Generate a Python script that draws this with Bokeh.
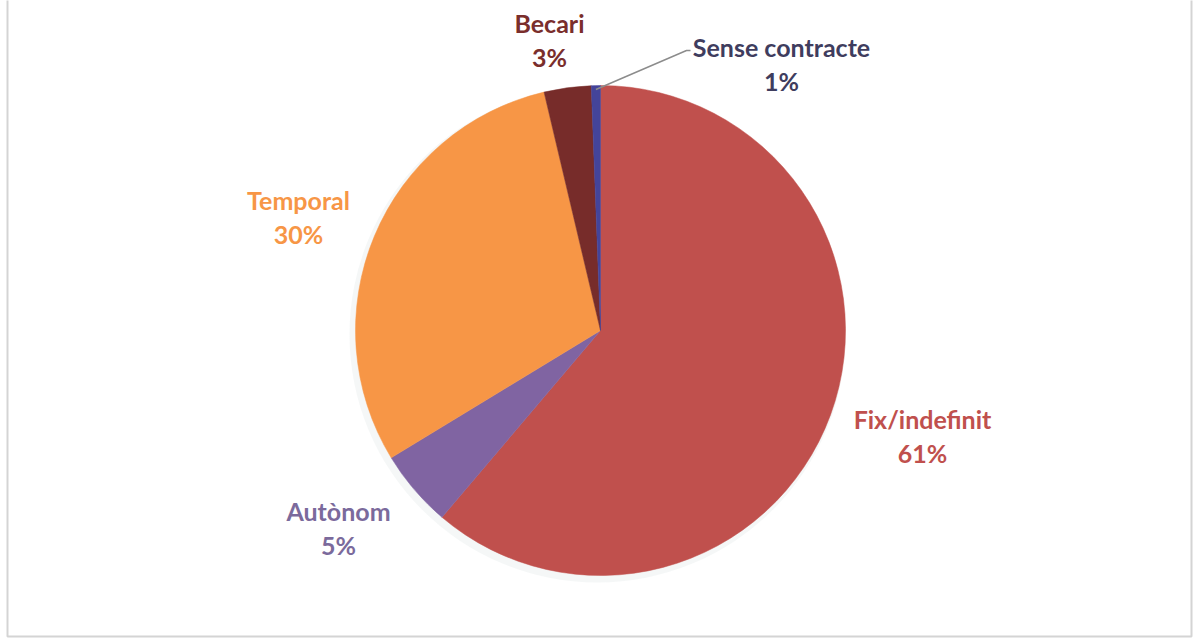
import numpy as np
from bokeh.plotting import figure
from bokeh.models import Range1d, ColumnDataSource
from bokeh.core.properties import value
from bokeh.embed import file_html
from bokeh.resources import INLINE

# ---- data ----
categories = ["Fix/indefinit", "Autònom", "Temporal", "Becari", "Sense contracte"]
shares = [61.2, 5.1, 30.0, 3.1, 0.6]
pct_labels = ["61%", "5%", "30%", "3%", "1%"]
colors = ["#C0504D", "#8064A2", "#F79646", "#772C2A", "#44449A"]
label_colors = ["#C0504D", "#7B6A9C", "#F79646", "#7A2E2C", "#3F3D5E"]

# ---- layout (pixels relative to pie centre, y up) ----
R = 245
label_xy = [(322, -105), (-262, -197), (-302, 114), (-51, 291), (181, 267)]

vals = np.array(shares, dtype=float)
frac = vals / vals.sum()
cum = np.concatenate([[0], np.cumsum(frac)])
start = np.pi / 2 - cum[:-1] * 2 * np.pi
end = np.pi / 2 - cum[1:] * 2 * np.pi

src = ColumnDataSource(dict(start=start, end=end, color=colors, cat=categories))

p = figure(width=1193, height=641, output_backend="svg", toolbar_location=None,
           x_range=Range1d(-600, 593), y_range=Range1d(-311, 330),
           min_border=0, outline_line_color=None)
p.axis.visible = False
p.grid.visible = False
p.background_fill_color = "white"
p.border_fill_color = "white"

# frame of the chart box
p.line(x=[-593, -593, 591, 591], y=[340, -306, -306, 340], line_color="#D4D4D4", line_width=2)

# soft shadow
p.circle(x=-3, y=-4, radius=R + 3, fill_color="#EEF1F1", line_color=None, alpha=0.6)

p.wedge(x=0, y=0, radius=R, start_angle="start", end_angle="end", direction="clock",
        fill_color="color", line_color="color", line_width=0.5, source=src)

# leader line for small slice
mid_small = (start[4] + end[4]) / 2
lx0, ly0 = R * np.cos(mid_small), R * np.sin(mid_small) - 4
p.line(x=[lx0, 86, 90], y=[ly0, 280, 280], line_color="#8C8C8C", line_width=1.5)

fs = "25px"
for i, (cat, pl) in enumerate(zip(categories, pct_labels)):
    x, y = label_xy[i]
    p.text(x=[x], y=[y + 17], text=[cat], text_align="center", text_baseline="middle",
           text_font=value("Lato"), text_font_style="bold", text_font_size=fs,
           text_color=label_colors[i])
    p.text(x=[x], y=[y - 17], text=[pl], text_align="center", text_baseline="middle",
           text_font=value("Lato"), text_font_style="bold", text_font_size=fs,
           text_color=label_colors[i])

open("out.html", "w").write(file_html(p, INLINE))
